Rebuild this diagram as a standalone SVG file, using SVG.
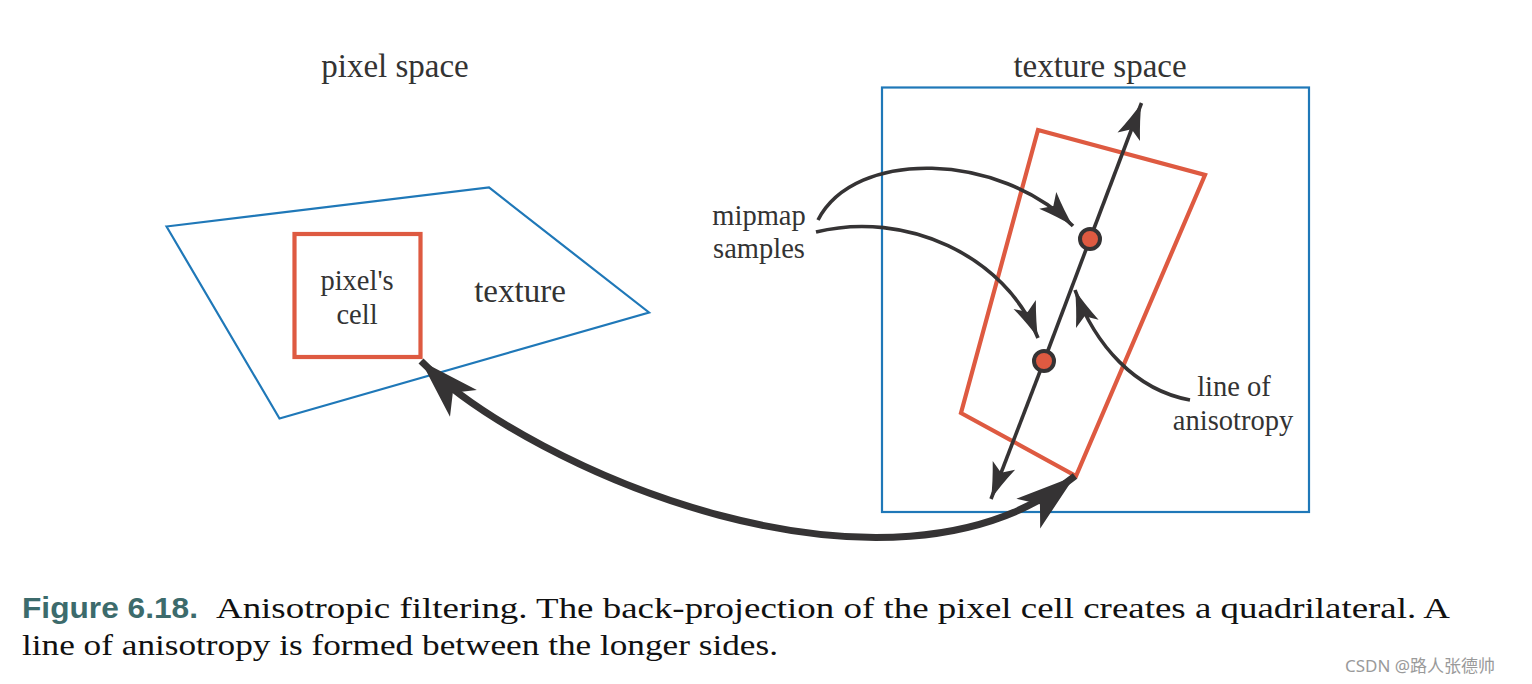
<svg xmlns="http://www.w3.org/2000/svg" width="1532" height="684" viewBox="0 0 1532 684">
<style>
.lbl{font-family:"Liberation Serif","Times New Roman",serif;fill:#333;text-anchor:middle}
.big{font-size:33px}
.sm{font-size:28.5px}
.blue{fill:none;stroke:#1f78b8;stroke-width:2.2}
.red{fill:none;stroke:#de5a41;stroke-width:4.2}
.ln{fill:none;stroke:#353334;stroke-width:3.6}
.thick{fill:none;stroke:#353334;stroke-width:7}
.dot{fill:#de5a41;stroke:#353334;stroke-width:4}
.cap{font-family:"Liberation Serif","Times New Roman",serif;font-size:30px;fill:#111}
.fig{font-family:"Liberation Sans","Open Sans",sans-serif;font-weight:bold;font-size:29px;fill:#3c6b6c}
.wm{font-family:"Noto Sans","Noto Sans CJK SC",sans-serif;font-size:17px;fill:#9a9a9a}
</style>
<defs>
<marker id="ah" markerUnits="userSpaceOnUse" viewBox="-40 -14 42 28" refX="0" refY="0" markerWidth="42" markerHeight="28" orient="auto-start-reverse">
<path d="M0,0 Q-16,-4 -36,-12 L-28,0 L-36,12 Q-16,4 0,0 Z" fill="#353334"/>
</marker>
<marker id="bh" markerUnits="userSpaceOnUse" viewBox="-64 -24 66 48" refX="0" refY="0" markerWidth="66" markerHeight="48" orient="auto-start-reverse">
<path d="M0,0 Q-30,-9.5 -60,-19 L-45,0 L-60,19 Q-30,9.5 0,0 Z" fill="#353334"/>
</marker>
</defs>

<g id="pixel-space">
<text class="lbl big" x="395" y="77">pixel space</text>
<polygon class="blue" points="166.5,226.5 489,187.5 649,312.5 279.5,418.5"/>
<text class="lbl big" x="520" y="302">texture</text>
</g>

<g id="pixel-cell">
<rect class="red" x="294.5" y="234" width="126" height="123"/>
<text class="lbl sm" x="357" y="290">pixel's</text>
<text class="lbl sm" x="357" y="324">cell</text>
</g>

<g id="texture-space">
<text class="lbl big" x="1100" y="77">texture space</text>
<rect class="blue" x="882" y="87.5" width="427" height="424.5"/>
</g>

<g id="footprint">
<polygon class="red" points="1038,130 1205,175 1076,476 961,413"/>
</g>

<g id="mipmap-label">
<text class="lbl sm" x="759" y="225">mipmap</text>
<text class="lbl sm" x="759" y="258">samples</text>
</g>

<g id="anisotropy-label">
<text class="lbl sm" x="1234" y="396">line of</text>
<text class="lbl sm" x="1233" y="430">anisotropy</text>
</g>

<g id="connectors">
<path class="ln" d="M1090,239 L1141.5,103" marker-end="url(#ah)"/>
<path class="ln" d="M1044,361 L991,499" marker-end="url(#ah)"/>
<line class="ln" x1="1090" y1="239" x2="1044" y2="361"/>
<path class="ln" d="M818,220 C855,148 1000,152 1073,226" marker-end="url(#ah)"/>
<path class="ln" d="M816,232 C905,210 1005,255 1038,338" marker-end="url(#ah)"/>
<path class="ln" d="M1190,400 C1135,390 1095,345 1075,290" marker-end="url(#ah)"/>
<path class="thick" d="M421,361 C530,470 890,625 1075,476" marker-start="url(#bh)" marker-end="url(#bh)"/>
</g>

<g id="samples">
<circle class="dot" cx="1090" cy="239" r="10"/>
<circle class="dot" cx="1044" cy="361" r="10"/>
</g>

<g id="caption">
<text class="fig" x="22" y="618" textLength="176" lengthAdjust="spacingAndGlyphs">Figure 6.18.</text>
<text class="cap" x="216" y="618" textLength="1234" lengthAdjust="spacingAndGlyphs">Anisotropic filtering.  The back-projection of the pixel cell creates a quadrilateral.  A</text>
<text class="cap" x="22" y="655" textLength="756" lengthAdjust="spacingAndGlyphs">line of anisotropy is formed between the longer sides.</text>
</g>
<text class="wm" x="1345" y="672">CSDN @路人张德帅</text>
</svg>
